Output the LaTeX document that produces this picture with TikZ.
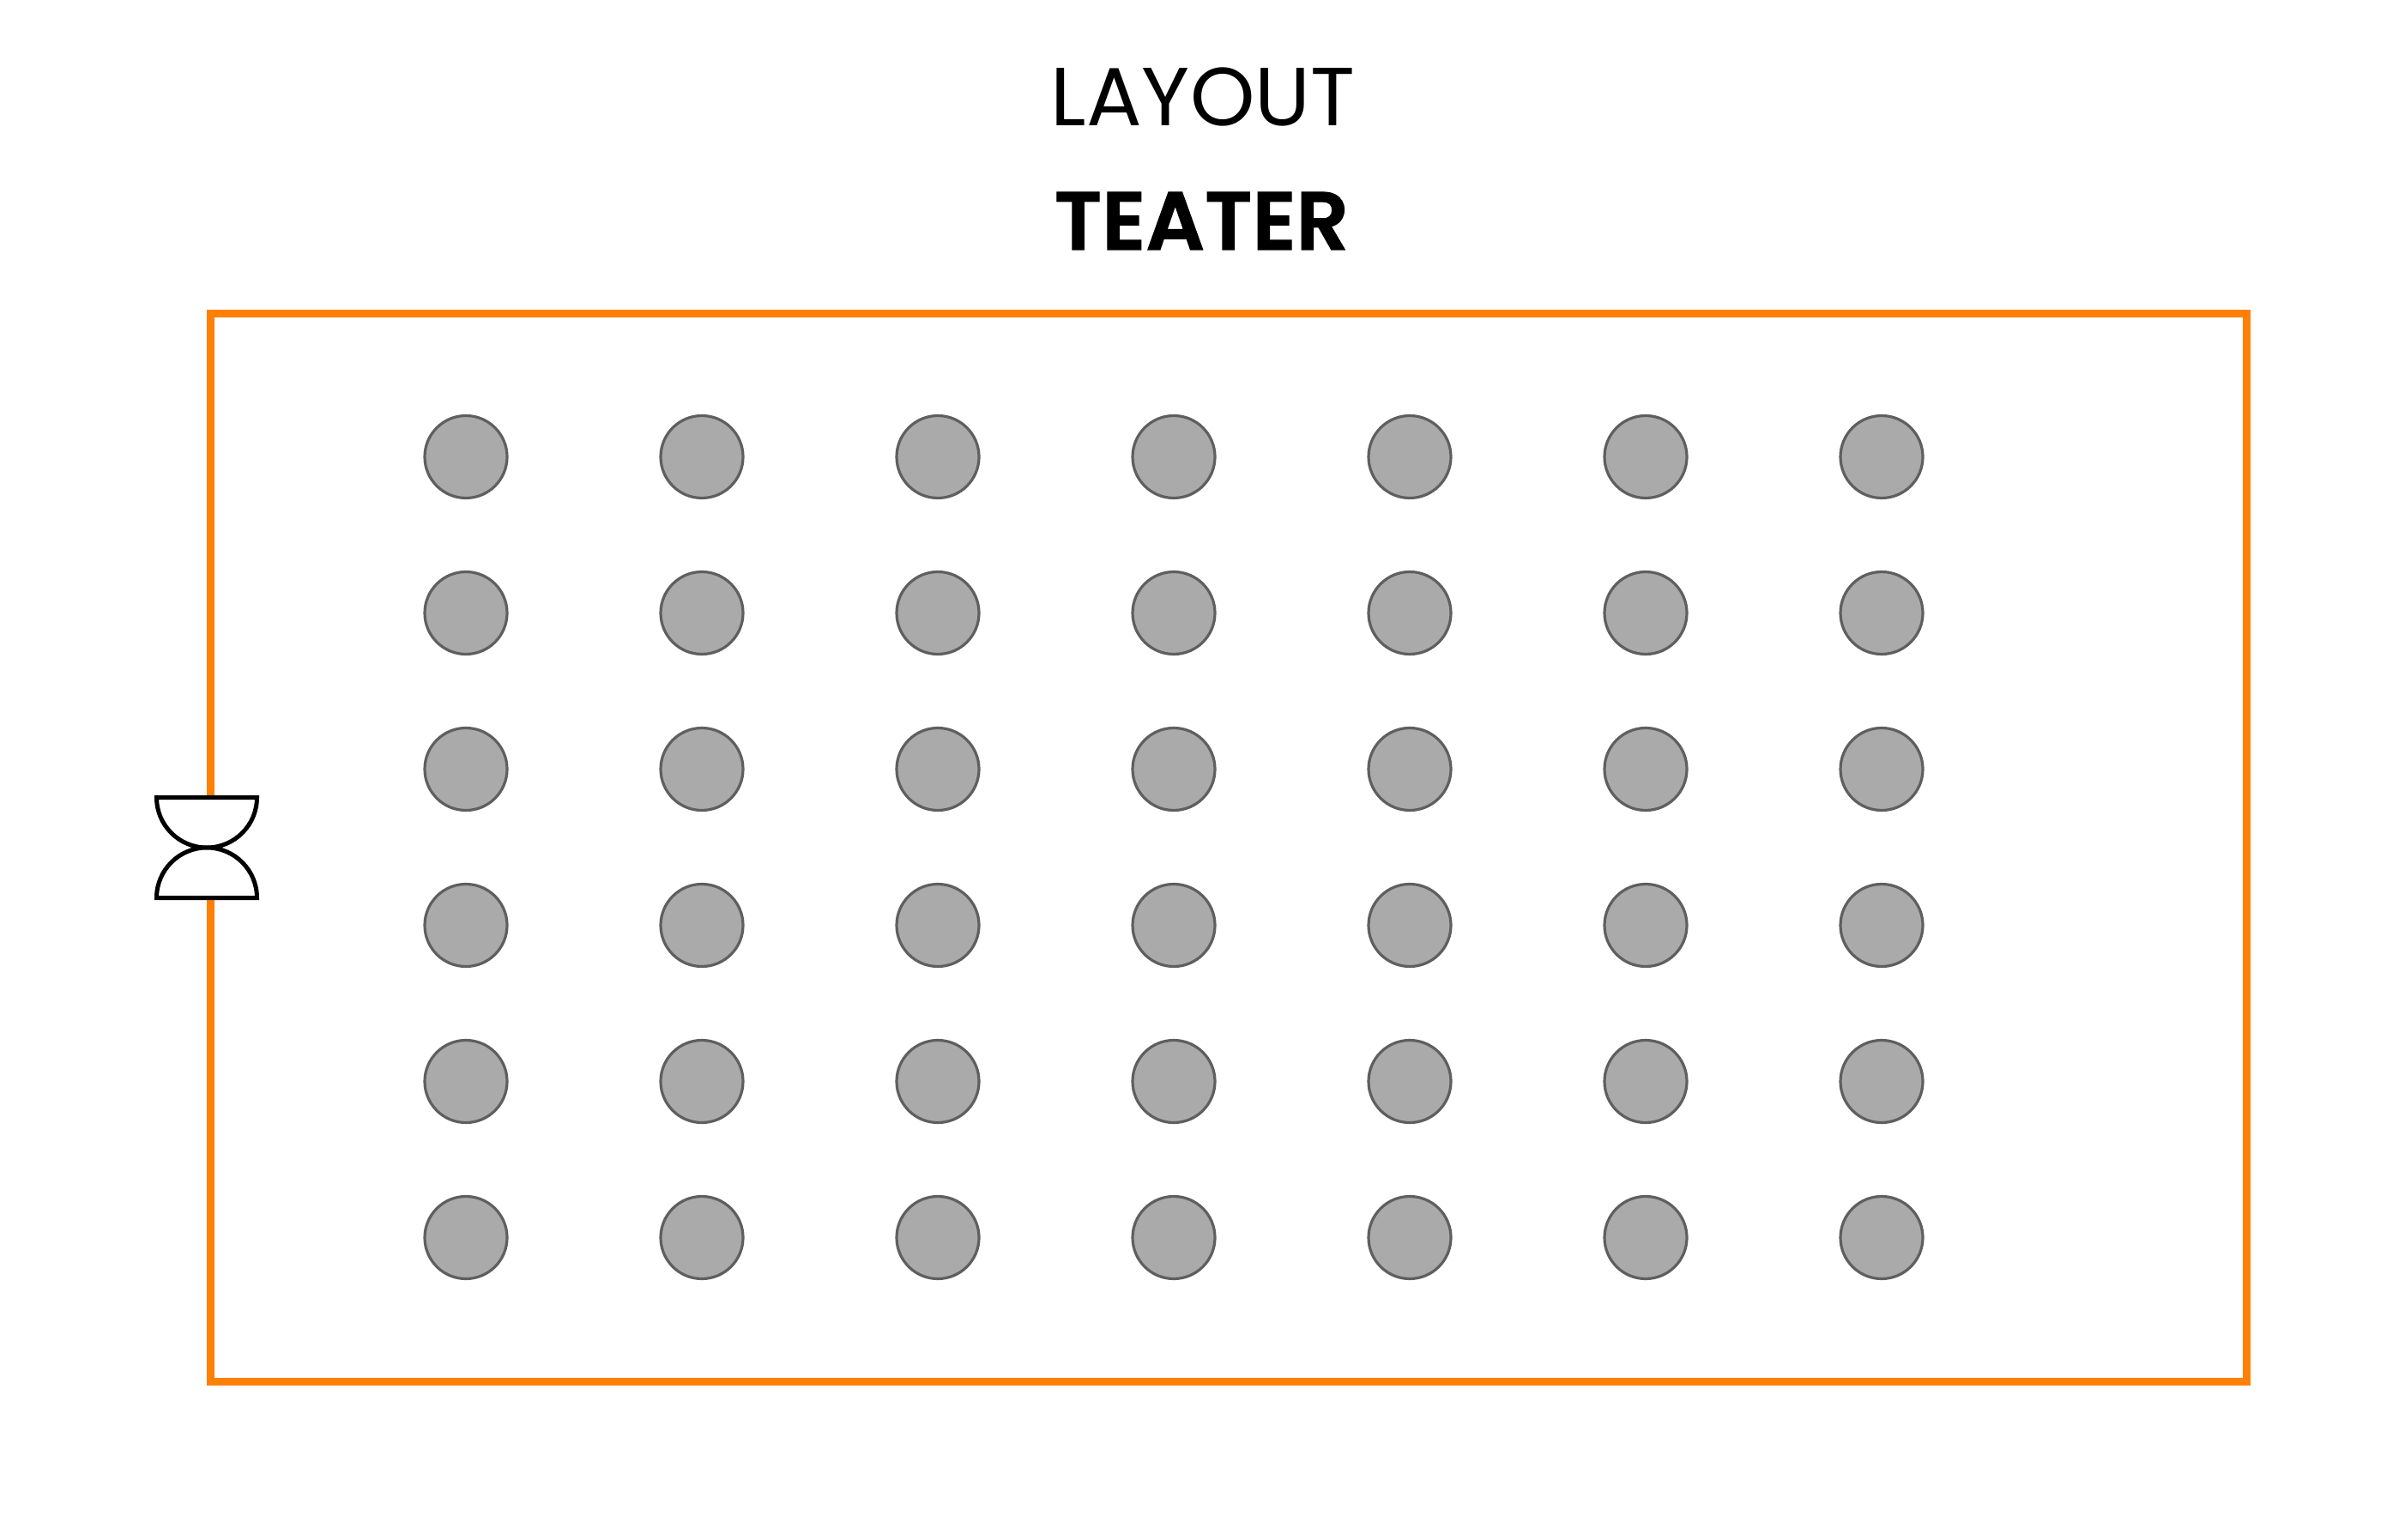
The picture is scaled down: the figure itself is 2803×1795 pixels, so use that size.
\documentclass[tikz,border=0pt]{standalone}
\usepackage{fontspec}
\setmainfont{Poppins}
\newfontfamily\semibold[FakeBold=1.2]{Poppins SemiBold}
\definecolor{frameorange}{HTML}{FF8005}
\definecolor{seatfill}{HTML}{AAAAAA}
\definecolor{seatline}{HTML}{5F5F5F}
\tikzset{
  seat/.style={circle,draw=seatline,fill=seatfill,line width=3.2pt,minimum size=96pt,inner sep=0pt},
  frame/.style={draw=frameorange,line width=9pt,fill=white},
  door/.style={draw=black,line width=5pt,fill=white},
  titlelight/.style={font=\fontsize{96}{96}\selectfont,text=black,inner sep=0pt,anchor=base},
  titlebold/.style={font=\fontsize{96}{96}\selectfont\semibold,text=black,inner sep=0pt,anchor=base}
}
\begin{document}
\begin{tikzpicture}[x=1pt,y=-1pt]
\useasboundingbox (0,0) rectangle (2803,1795);
\fill[white] (0,0) rectangle (2803,1795);
\draw[frame] (245.5,365.5) rectangle (2618.5,1610.5);
\node[titlelight] (layout) at (1402,147) {LAYOUT};
\node[titlebold] (teater) at (1400.5,291) {TEATER};
\foreach \c [count=\i] in {543,818,1093,1368,1643,1918,2193}
  \foreach \r [count=\j] in {532.5,714.5,896.5,1078.5,1260.5,1442.5}
    \node[seat] (s\i-\j) at (\c,\r) {};
\draw[door] (182.5,929.5) -- (299.5,929.5) arc[start angle=0,end angle=180,x radius=58.5,y radius=58.5] -- cycle;
\draw[door] (182.5,1046.5) -- (299.5,1046.5) arc[start angle=0,end angle=-180,x radius=58.5,y radius=58.5] -- cycle;
\end{tikzpicture}
\end{document}
